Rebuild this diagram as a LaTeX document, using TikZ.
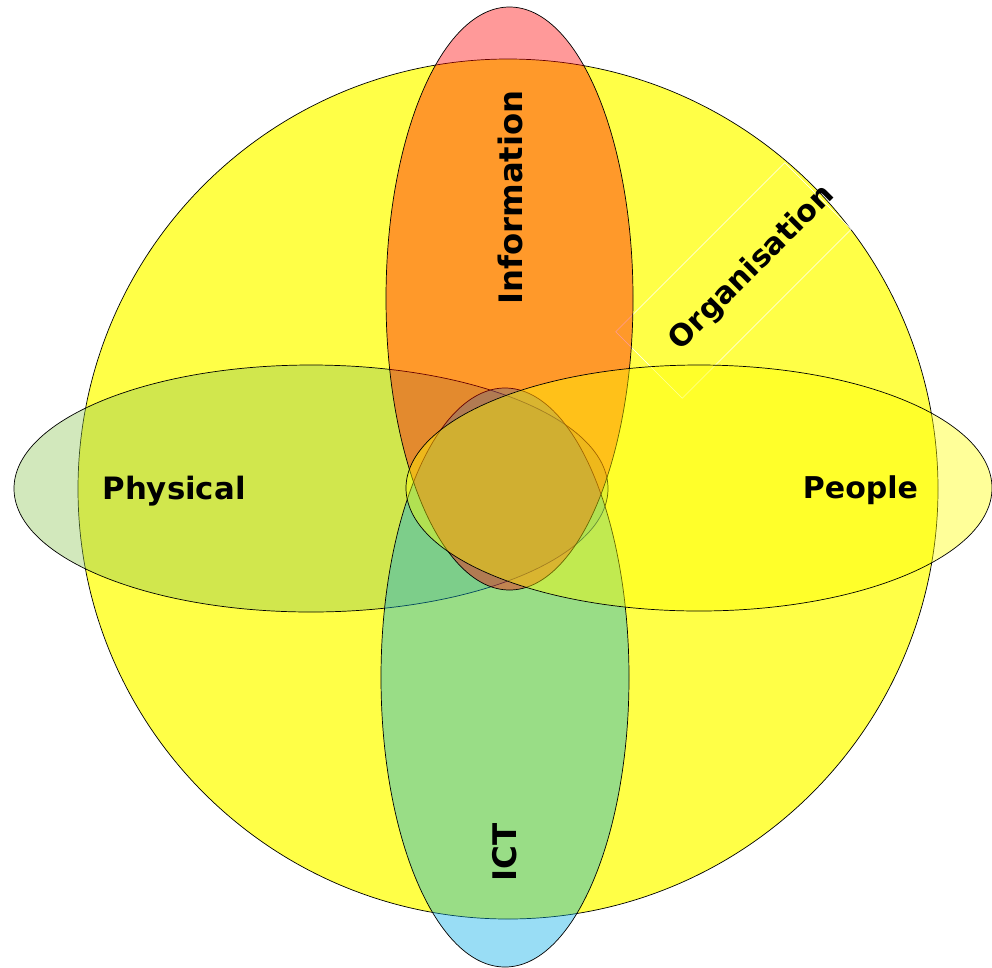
\documentclass[tikz,border=0pt]{standalone}
\usepackage{fontspec}
\setmainfont{DejaVu Sans}
\definecolor{circyellow}{RGB}{255,255,71}
\definecolor{infored}{RGB}{255,0,0}
\definecolor{ictblue}{RGB}{0,170,230}
\definecolor{physgreen}{RGB}{142,197,87}
\definecolor{peopleyellow}{RGB}{255,255,0}
\begin{document}
\begin{tikzpicture}[x=1pt,y=-1pt,
  blob/.style={draw=black,line width=0.7pt,fill opacity=0.4},
  lbl/.style={font=\bfseries\fontsize{30}{36}\selectfont,text=black,inner sep=0pt}]
\useasboundingbox (0,0) rectangle (992,967);
% big circle
\draw[line width=0.7pt,fill=circyellow] (508,489) circle[radius=430pt];
% organisation text box (white outline)
\node[draw=white,line width=0.6pt,rotate=45,minimum width=239pt,minimum height=94pt,inner sep=0pt] (orgbox) at (733.5,280.5) {};
% ellipses
\draw[blob,fill=physgreen] (311,488.5) ellipse[x radius=297pt,y radius=123.5pt];
\draw[blob,fill=ictblue] (505,677.5) ellipse[x radius=124pt,y radius=289.5pt];
\draw[blob,fill=infored] (509.5,298.5) ellipse[x radius=123.5pt,y radius=291.5pt];
\draw[blob,fill=peopleyellow] (699,488) ellipse[x radius=293pt,y radius=123pt];
% labels
\node[lbl,anchor=base,font=\bfseries\fontsize{30.8}{36}\selectfont] (physical) at (174,499.3) {Physical};
\node[lbl,anchor=base] (people) at (860.5,498) {People};
\node[lbl,anchor=base,rotate=90,font=\bfseries\fontsize{32.3}{38}\selectfont] (information) at (522,197.5) {Information};
\node[lbl,anchor=base,rotate=90,font=\bfseries\fontsize{32.5}{38}\selectfont] (ict) at (516,852.5) {ICT};
\node[lbl,anchor=base,rotate=45] (organisation) at (758,274) {Organisation};
\end{tikzpicture}
\end{document}
